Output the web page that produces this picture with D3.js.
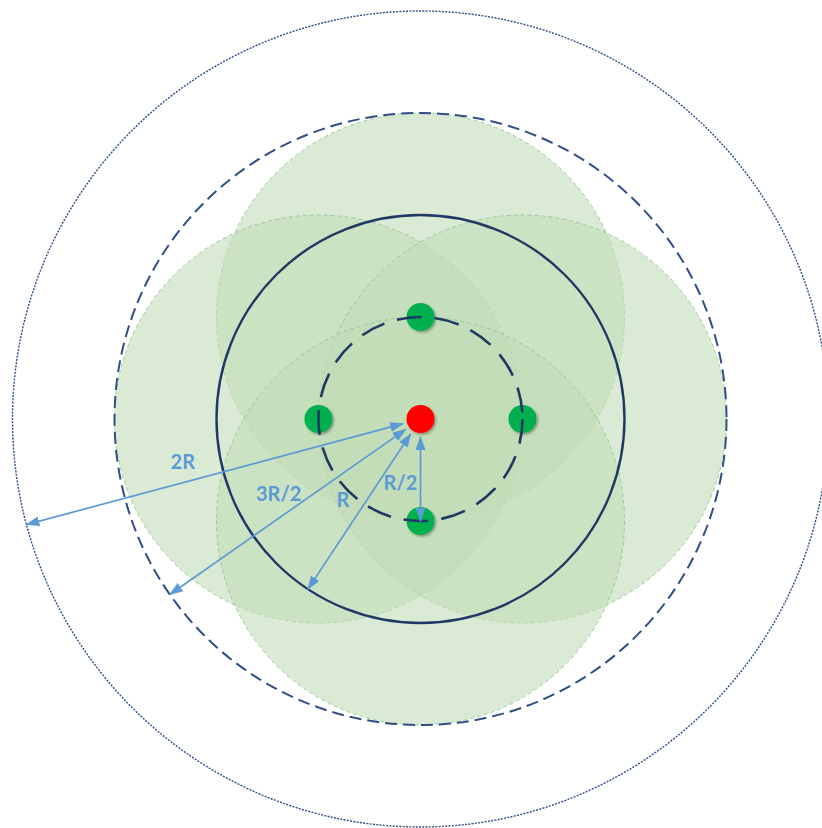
<!DOCTYPE html>
<html>
<head>
<meta charset="utf-8">
<script src="https://cdn.jsdelivr.net/npm/d3@7"></script>
<style>
  html, body { margin: 0; padding: 0; background: #fff; }
  svg { display: block; }
</style>
</head>
<body>
<script>
// Rings around the central node, in units of R
var ringLabels = ["R/2", "R", "3R/2", "2R"],
    ringRadius = [0.5, 1, 1.5, 2],
    // direction of the measuring arrow for each ring (degrees, screen coords)
    arrowAngle = [90, 123.5, 145, 165];

// Neighbour nodes: angle (deg) and distance (R units) from the centre
var nodeAngle = [270, 180, 0, 90],
    nodeDist = [0.5, 0.5, 0.5, 0.5],
    // coverage radius of every neighbour (R units)
    coverRadius = 1;

var canvas = {w: 822, h: 828},
    center = {x: 420.5, y: 419};

// R units -> pixels
var r = d3.scaleLinear().domain([0, 2]).range([0, 408]);

// styles for each ring, same order as ringLabels
var ringStyle = [
  {stroke: "#1f3864", width: 2.6, dash: "25,13"},
  {stroke: "#203864", width: 2.4, dash: null},
  {stroke: "#2f4f86", width: 2, dash: "12,6"},
  {stroke: "#2f4f86", width: 1.4, dash: "2,1.3"}
];
// where the label sits along each arrow (fraction) and how far beside it (px)
var labelAt = [0.63, 0.54, 0.52, 0.59],
    labelSide = 20;

var svg = d3.select("body").append("svg")
    .attr("width", canvas.w)
    .attr("height", canvas.h);

var defs = svg.append("defs");
defs.append("filter")
    .attr("id", "shadow")
    .attr("x", "-50%").attr("y", "-50%")
    .attr("width", "200%").attr("height", "200%")
  .append("feDropShadow")
    .attr("dx", 1.5).attr("dy", 1.5)
    .attr("stdDeviation", 1.2)
    .attr("flood-color", "#000")
    .attr("flood-opacity", 0.35);

function marker(id, orient) {
  defs.append("marker")
      .attr("id", id)
      .attr("viewBox", "0 -6 14 12")
      .attr("refX", 13).attr("refY", 0)
      .attr("markerWidth", 14).attr("markerHeight", 12)
      .attr("markerUnits", "userSpaceOnUse")
      .attr("orient", orient)
    .append("path")
      .attr("d", "M0,-5L14,0L0,5Z")
      .attr("fill", "#5b9bd5");
}
marker("head", "auto");
marker("tail", "auto-start-reverse");

var g = svg.append("g")
    .attr("transform", "translate(" + center.x + "," + center.y + ")");

var nodes = nodeAngle.map(function(a, i) {
  var t = a * Math.PI / 180;
  return {x: r(nodeDist[i]) * Math.cos(t), y: r(nodeDist[i]) * Math.sin(t)};
});

// coverage discs of the neighbours
g.selectAll(".cover")
    .data(nodes)
  .enter().append("circle")
    .attr("class", "cover")
    .attr("cx", function(d) { return d.x; })
    .attr("cy", function(d) { return d.y; })
    .attr("r", r(coverRadius))
    .attr("fill", "rgba(193,220,183,0.6)")
    .attr("stroke", "#8cc08c")
    .attr("stroke-opacity", 0.8)
    .attr("stroke-width", 1)
    .attr("stroke-dasharray", "4,3");

// neighbour nodes
g.selectAll(".node")
    .data(nodes)
  .enter().append("circle")
    .attr("class", "node")
    .attr("cx", function(d) { return d.x; })
    .attr("cy", function(d) { return d.y; })
    .attr("r", 14)
    .attr("fill", "#00b050")
    .attr("filter", "url(#shadow)");

// rings
g.selectAll(".ring")
    .data(ringRadius)
  .enter().append("circle")
    .attr("class", "ring")
    .attr("r", function(d) { return r(d); })
    .attr("fill", "none")
    .attr("stroke", function(d, i) { return ringStyle[i].stroke; })
    .attr("stroke-width", function(d, i) { return ringStyle[i].width; })
    .attr("stroke-dasharray", function(d, i) { return ringStyle[i].dash; });

// centre node
g.append("circle")
    .attr("r", 14)
    .attr("fill", "#ff0000")
    .attr("filter", "url(#shadow)");

// measuring arrows
var arrows = ringRadius.map(function(d, i) {
  var t = arrowAngle[i] * Math.PI / 180;
  return {c: Math.cos(t), s: Math.sin(t), len: r(d), label: ringLabels[i], at: labelAt[i]};
});

g.selectAll(".arrow")
    .data(arrows)
  .enter().append("line")
    .attr("class", "arrow")
    .attr("x1", function(d) { return 18 * d.c; })
    .attr("y1", function(d) { return 18 * d.s; })
    .attr("x2", function(d) { return d.len * d.c; })
    .attr("y2", function(d) { return d.len * d.s; })
    .attr("stroke", "#5b9bd5")
    .attr("stroke-width", 1.7)
    .attr("marker-start", "url(#tail)")
    .attr("marker-end", "url(#head)");

g.selectAll(".label")
    .data(arrows)
  .enter().append("text")
    .attr("class", "label")
    .attr("x", function(d) { return d.len * d.at * d.c - labelSide * d.s; })
    .attr("y", function(d) { return d.len * d.at * d.s + labelSide * d.c; })
    .attr("text-anchor", "middle")
    .attr("dy", "0.35em")
    .attr("fill", "#5b9bd5")
    .style("font", "bold 20px Lato, 'Open Sans', sans-serif")
    .text(function(d) { return d.label; });
</script>
</body>
</html>
